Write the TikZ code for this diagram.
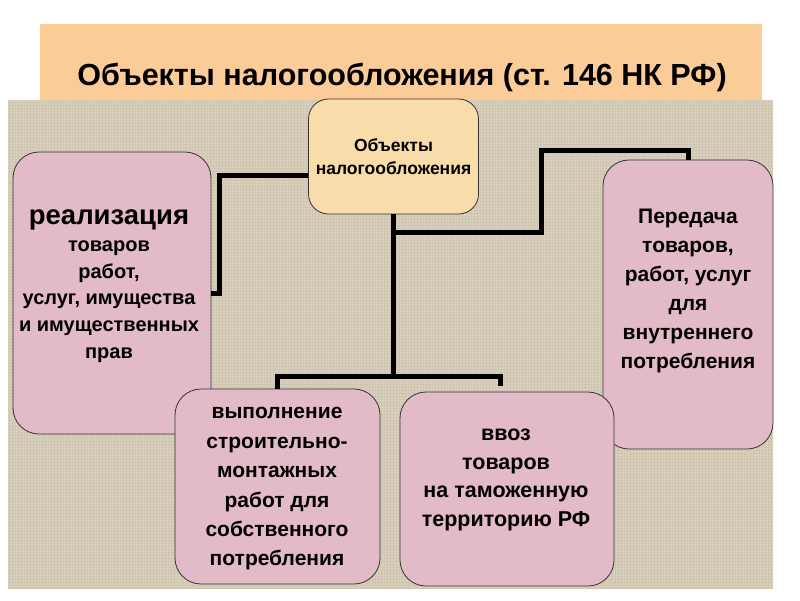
\documentclass[tikz,border=0pt]{standalone}
\usepackage{fontspec}
\setmainfont{Liberation Sans}
\usetikzlibrary{calc,positioning,patterns}
\definecolor{bandfill}{HTML}{FBCB98}
\definecolor{canvasfill}{HTML}{D9D0BE}
\definecolor{canvasgrain}{HTML}{CFC5B1}
\definecolor{objfill}{HTML}{E3BAC8}
\definecolor{mainfill}{HTML}{F8DDAB}
\tikzset{
  line cap=butt,
  line join=miter,
  objbox/.style={draw=black!80, line width=0.8pt, fill=objfill, rounded corners=26pt, inner sep=0pt},
  mainbox/.style={draw=black!80, line width=0.8pt, fill=mainfill, rounded corners=20pt, inner sep=0pt},
  boxtext/.style={align=center, font=\bfseries\fontsize{21}{28}\selectfont, inner sep=0pt},
  link/.style={line width=5pt, black}
}
\begin{document}
\begin{tikzpicture}[x=1pt,y=-1pt]
    % рамка страницы
    \useasboundingbox (0,0) rectangle (800,600);
    \fill[white] (0,0) rectangle (800,600);
    
    % заголовок и фон
    \fill[bandfill] (40,24) rectangle (762,100);
    \fill[canvasfill] (8,100) rectangle (773,588);
    \fill[pattern=grid, pattern color=canvasgrain] (8,100) rectangle (773,588);
    \node[font=\bfseries\fontsize{30.5}{34}\selectfont] (title) at (402,77) {Объекты налогообложения (ст. 146 НК РФ)};
    
    % блоки
    \node[mainbox, minimum width=170pt, minimum height=115pt] (main) at (393.5,156.5) {};
    \node[objbox, minimum width=198pt, minimum height=282pt] (realiz) at (112,293) {};
    \node[objbox, minimum width=170pt, minimum height=289pt] (pered) at (688,304.5) {};
    \node[objbox, minimum width=205pt, minimum height=195pt] (vypoln) at (277.5,486.5) {};
    \node[objbox, minimum width=214pt, minimum height=194pt] (vvoz) at (507,489) {};
    
    % тексты
    \node[boxtext, font=\bfseries\fontsize{17.5}{23}\selectfont] (mainT) at (main.center) {Объекты\\налогообложения};
    \node[boxtext, font=\bfseries\fontsize{20}{26.7}\selectfont] (realizT) at (109,286) {\fontsize{27.5}{30}\selectfont реализация\\товаров\\работ,\\услуг, имущества\\и имущественных\\прав};
    \node[boxtext, font=\bfseries\fontsize{21}{29}\selectfont] (peredT) at (688,290.5) {Передача\\товаров,\\работ, услуг\\для\\внутреннего\\потребления};
    \node[boxtext, font=\bfseries\fontsize{21}{29.4}\selectfont] (vypolnT) at (277,489) {выполнение\\строительно-\\монтажных\\работ для\\собственного\\потребления};
    \node[boxtext, font=\bfseries\fontsize{21.5}{28.7}\selectfont] (vvozT) at (506,480) {ввоз\\товаров\\на таможенную\\территорию РФ};
    
    % соединения
    \coordinate (stem) at ($(main.south)+(0,18)$);
    \coordinate (fork) at ($(main.south)+(0,162)$);
    \draw[link] ([yshift=-19pt]main.west) -| ($(realiz.east)+(8,0)$) -- (realiz.east);
    \draw[link] (main.south) -- (fork);
    \draw[link] (stem) -| (541,150) -| (pered.north);
    \draw[link] ($(fork)+(2.5,0)$) -| (vypoln.north);
    \draw[link, shorten >=6pt] (fork) -| ([xshift=-7pt]vvoz.north);
\end{tikzpicture}
\end{document}
